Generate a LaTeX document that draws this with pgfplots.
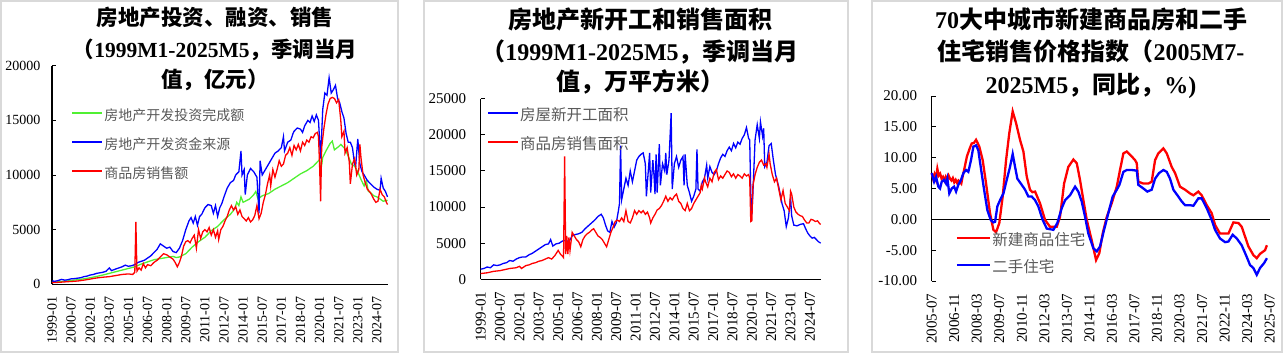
\documentclass[border=0pt]{standalone}
\usepackage{fontspec}
\setmainfont{Liberation Serif}
\newfontfamily\cjk{Noto Sans CJK SC}
\usepackage{pgfplots}
\pgfplotsset{compat=1.18}
\definecolor{cgreen}{RGB}{80,240,50}
\definecolor{cblue}{RGB}{0,0,255}
\definecolor{cred}{RGB}{255,0,0}
\definecolor{legtext}{RGB}{89,89,89}
\definecolor{framegray}{RGB}{217,217,217}
\pgfplotsset{
  base/.style={
    scale only axis, anchor=south west,
    axis x line*=bottom, axis y line*=left,
    axis line style={black, line width=1.1pt},
    xtick style={draw=none},
    ytick style={black, line width=1pt},
    tick align=inside, major tick length=4pt,
    scaled y ticks=false,
    /pgf/number format/assume math mode=true,
    /pgf/number format/set thousands separator={},
    xticklabel style={rotate=90, anchor=east},
    xticklabel shift=9pt,
    legend cell align=left,
    legend style={draw=none, fill=none, anchor=north west, inner sep=0pt, text=legtext,
      nodes={inner sep=1pt, text height=10pt, text depth=3pt}},
    legend image code/.code={\draw[##1,line width=2pt] (0pt,4pt) -- (30pt,4pt);},
    clip=false,
  }
}
\begin{document}
\begin{tikzpicture}
\useasboundingbox (0pt,0pt) rectangle (1284pt,354pt);
\draw[framegray, line width=1.2pt] (1pt,2pt) rectangle (398pt,353pt);
\draw[framegray, line width=1.2pt] (424pt,2pt) rectangle (848pt,353pt);
\draw[framegray, line width=1.2pt] (872pt,2pt) rectangle (1282pt,353pt);

% titles
\begin{scope}[every node/.style={anchor=base, inner sep=0pt}]
\node[font=\bfseries\fontsize{21.5}{21.5}\selectfont] at (215pt,328pt) {\cjk 房地产投资、融资、销售};
\node[font=\bfseries\fontsize{21.5}{21.5}\selectfont] at (215pt,296pt) {{\cjk （}1999M1-2025M5{\cjk ，季调当月}};
\node[font=\bfseries\fontsize{21.5}{21.5}\selectfont] at (215pt,266pt) {\cjk 值，亿元）};
\node[font=\bfseries\fontsize{24}{24}\selectfont] at (640pt,325pt) {\cjk 房地产新开工和销售面积};
\node[font=\bfseries\fontsize{24}{24}\selectfont] at (640pt,293pt) {{\cjk （}1999M1-2025M5{\cjk ，季调当月}};
\node[font=\bfseries\fontsize{24}{24}\selectfont] at (640pt,263pt) {\cjk 值，万平方米）};
\node[font=\bfseries\fontsize{24}{24}\selectfont] at (1091pt,325pt) {70{\cjk 大中城市新建商品房和二手}};
\node[font=\bfseries\fontsize{24}{24}\selectfont] at (1091pt,293pt) {{\cjk 住宅销售价格指数（}2005M7-};
\node[font=\bfseries\fontsize{24}{24}\selectfont] at (1091pt,260pt) {2025M5{\cjk ，同比，}\%)};
\end{scope}

% ---------- panel 1
\begin{axis}[base, at={(52pt,69.7pt)}, width=335.5pt, height=218.6pt,
  xmin=0, xmax=316, ymin=0, ymax=20000,
  ytick={0,5000,10000,15000,20000},
  xtick={0,18,...,306},
  xticklabels={1999-01,2000-07,2002-01,2003-07,2005-01,2006-07,2008-01,2009-07,2011-01,2012-07,2014-01,2015-07,2017-01,2018-07,2020-01,2021-07,2023-01,2024-07},
  ticklabel style={font=\fontsize{14}{14}\selectfont},
  yticklabel shift=8pt,
  legend style={at={(rel axis cs:0.057,0.799)}, font=\fontsize{14}{14}\selectfont\cjk, row sep=14pt},
]
\addplot[cgreen, line width=1.3pt] coordinates {(0,180)(6,230)(12,280)(18,350)(24,420)(30,500)(36,600)(42,720)(48,850)(54,1000)(60,1150)(66,1300)(72,1450)(78,1600)(84,1850)(90,2050)(96,2250)(102,2350)(108,2450)(114,2550)(117,2450)(120,2500)(126,2800)(132,3400)(138,3900)(144,4300)(150,4900)(156,5300)(162,5900)(168,6400)(172,6900)(174,7500)(176,7200)(178,8000)(180,7500)(186,7800)(190,8200)(192,8500)(194,7800)(198,8100)(204,8300)(210,8700)(216,9000)(222,9300)(228,9700)(234,10100)(240,10400)(246,10800)(250,11200)(252,11400)(253,10300)(255,11600)(258,12200)(262,12900)(264,13100)(266,12300)(270,12600)(272,12800)(276,12400)(280,11500)(282,11000)(285,10800)(288,10300)(291,9600)(294,9000)(296,9500)(298,8500)(300,8400)(303,8100)(306,8000)(309,7800)(312,7600)(316,7700)};
\addlegendentry{房地产开发投资完成额}
\addplot[cblue, line width=1.3pt] coordinates {(0,300)(3,280)(6,350)(9,450)(12,380)(15,420)(18,500)(21,520)(24,560)(27,600)(30,700)(33,750)(36,850)(39,900)(42,1000)(45,1050)(48,1100)(51,1200)(54,1500)(56,1250)(60,1400)(63,1500)(66,1600)(69,1750)(72,1650)(75,1700)(78,1800)(81,2000)(84,2100)(87,2200)(90,2400)(93,2600)(96,2900)(99,3200)(102,3700)(105,3500)(108,3300)(111,3400)(114,3000)(117,2900)(120,3300)(123,4000)(126,5000)(129,5800)(131,6100)(133,5600)(135,6200)(137,5400)(139,6200)(141,6400)(144,7000)(147,7300)(150,7200)(152,6500)(154,7200)(156,6200)(158,7000)(160,7400)(162,8000)(165,8800)(168,9300)(171,9500)(173,10000)(176,10300)(178,12200)(179,10000)(181,10500)(182,8200)(184,10000)(187,10600)(190,10300)(193,9800)(195,6500)(196,11300)(198,10000)(201,10500)(204,11000)(207,11500)(210,12000)(213,12200)(216,12500)(218,13500)(219,12200)(222,13000)(225,13200)(227,13800)(228,14000)(231,14300)(234,14200)(236,13900)(238,14500)(241,15000)(243,14800)(245,15400)(247,14900)(249,15500)(251,15000)(253,11500)(255,16000)(257,17500)(259,17300)(261,18900)(263,17500)(265,17800)(267,18200)(269,17000)(271,16600)(273,15800)(275,15200)(277,13800)(279,13000)(281,13000)(283,12500)(285,11000)(286,10800)(288,13300)(290,11000)(292,10300)(294,10000)(297,9500)(300,9200)(303,8900)(306,8700)(309,8600)(310,9700)(312,8800)(314,8500)(316,8000)};
\addlegendentry{房地产开发资金来源}
\addplot[cred, line width=1.3pt] coordinates {(0,150)(6,180)(12,220)(18,260)(24,300)(30,380)(36,480)(42,580)(48,650)(54,700)(60,800)(66,900)(72,950)(76,900)(78,1100)(79,5700)(80,1200)(82,1500)(84,1300)(86,1900)(88,1500)(90,1800)(93,1700)(96,2000)(99,2200)(102,2500)(105,2800)(108,2700)(111,2500)(114,2300)(116,2000)(118,1600)(120,2000)(122,2600)(124,3500)(126,3900)(128,4000)(130,3800)(132,4200)(134,4500)(136,3300)(138,5000)(140,4200)(142,4800)(144,5000)(146,4800)(148,5200)(150,4500)(152,5000)(154,4300)(156,4900)(157,4100)(159,5000)(161,5300)(163,5800)(165,6200)(167,6800)(169,7200)(171,6800)(173,7100)(175,6400)(177,6800)(179,6200)(181,6000)(183,5800)(185,6100)(187,5700)(189,5900)(191,6300)(193,7200)(195,6000)(197,6500)(199,7500)(201,8200)(203,9200)(205,10000)(206,9000)(208,10500)(210,9800)(212,10500)(214,11300)(216,10800)(218,11000)(220,11800)(222,12000)(224,12500)(226,11800)(228,12700)(230,12300)(232,12800)(234,12200)(236,13000)(238,12700)(240,13200)(242,13000)(244,13500)(246,13400)(248,13800)(250,13900)(251,13500)(252,11000)(253,7600)(254,12500)(256,14200)(258,15500)(260,16500)(262,17000)(264,17100)(266,17000)(268,16600)(270,16900)(272,15000)(273,13500)(275,14000)(276,12000)(278,12500)(280,11200)(281,9200)(283,11000)(285,11500)(287,10000)(289,10500)(290,12800)(291,11600)(293,10000)(295,9300)(297,8700)(299,8500)(301,8200)(303,7800)(305,7500)(307,7600)(309,8700)(311,8200)(313,8000)(315,7500)(316,7300)};
\addlegendentry{商品房销售额}
\end{axis}

% ---------- panel 2
\begin{axis}[base, at={(480.7pt,74.7pt)}, width=340pt, height=180.6pt,
  xmin=0, xmax=316, ymin=0, ymax=25000,
  ytick={0,5000,10000,15000,20000,25000},
  xtick={0,18,...,306},
  xticklabels={1999-01,2000-07,2002-01,2003-07,2005-01,2006-07,2008-01,2009-07,2011-01,2012-07,2014-01,2015-07,2017-01,2018-07,2020-01,2021-07,2023-01,2024-07},
  ticklabel style={font=\fontsize{15}{15}\selectfont},
  yticklabel shift=11pt,
  legend style={at={(rel axis cs:0.018,0.942)}, font=\fontsize{15.5}{15.5}\selectfont\cjk, row sep=14pt},
]
\addplot[cblue, line width=1.3pt] coordinates {(0,1400)(3,1500)(6,1700)(9,1600)(12,2000)(15,1900)(18,2000)(21,2200)(24,2300)(27,2600)(30,2500)(33,2800)(36,3000)(39,3100)(42,3100)(45,3400)(48,3600)(51,3900)(54,4200)(57,4500)(60,4800)(63,4900)(65,5500)(67,4600)(70,4900)(73,5000)(76,5300)(79,5400)(82,5200)(85,6000)(88,6200)(91,6300)(94,6500)(97,7000)(100,7400)(103,7800)(106,8200)(109,8700)(112,9000)(114,8500)(116,7500)(118,6700)(120,6500)(122,8000)(124,7200)(126,7800)(128,9500)(129,10500)(130,18500)(131,11000)(133,12500)(135,14000)(137,13000)(139,15000)(141,13500)(143,15000)(145,16500)(147,17000)(149,17300)(151,17500)(153,16000)(154,11500)(156,15500)(157,17500)(158,12000)(160,16500)(161,14500)(162,11800)(163,17300)(164,12000)(166,18700)(167,13000)(169,16000)(171,15000)(172,17500)(173,14500)(175,16500)(177,23000)(178,12500)(180,16000)(182,17000)(184,15500)(186,16500)(188,17000)(189,13000)(190,17300)(192,13000)(194,12000)(196,10800)(198,11500)(200,12500)(201,18000)(202,12500)(204,12200)(206,13500)(208,14000)(210,15800)(211,14000)(213,15600)(215,14800)(217,14500)(219,15000)(221,16000)(223,16800)(225,17300)(227,17000)(229,17800)(231,18300)(233,17800)(235,18800)(237,18200)(239,19000)(241,18700)(243,19500)(245,20000)(247,21000)(249,19500)(250,19300)(251,12000)(252,9000)(253,12000)(255,19300)(257,21400)(259,19500)(260,21800)(262,19800)(263,20900)(264,15600)(266,16200)(268,18500)(270,18800)(272,16500)(274,14500)(277,12800)(280,10500)(282,9500)(284,7300)(286,8500)(288,11400)(289,8800)(291,7500)(294,7400)(297,7600)(300,7700)(302,7000)(304,6400)(306,6000)(308,5700)(310,5800)(312,5500)(314,5200)(316,5000)};
\addlegendentry{房屋新开工面积}
\addplot[cred, line width=1.3pt] coordinates {(0,800)(3,850)(6,900)(9,1000)(12,1100)(15,1150)(18,1200)(21,1300)(24,1400)(27,1500)(30,1550)(33,1600)(36,1800)(38,1500)(40,1700)(42,1900)(45,2000)(48,2200)(51,2300)(54,2500)(57,2600)(60,2800)(63,3000)(66,2800)(69,3300)(72,4000)(74,3500)(76,3200)(77,3000)(78,17000)(79,3500)(80,6000)(81,3500)(82,5800)(83,4000)(85,6500)(87,6000)(89,5500)(91,5200)(93,4500)(95,5500)(97,6000)(99,6300)(101,6500)(103,6800)(105,7000)(107,6500)(109,6000)(111,5800)(113,5500)(115,5000)(117,4500)(119,5500)(121,6500)(123,7200)(125,8000)(127,8200)(129,8000)(131,8500)(133,8000)(135,9500)(137,8000)(139,7800)(141,8500)(143,9500)(145,9000)(147,9500)(149,9200)(151,9500)(153,9000)(155,9300)(157,8500)(158,7800)(160,8500)(162,9000)(164,9600)(166,9800)(168,10200)(170,10800)(172,11500)(174,10800)(176,11300)(178,11000)(180,11500)(182,11800)(184,10800)(186,10500)(188,9800)(190,9500)(192,10500)(194,9500)(196,9800)(198,10500)(200,11000)(202,11500)(204,12000)(205,13000)(206,12500)(208,14000)(209,13500)(211,12800)(213,14000)(215,13500)(217,14800)(219,15200)(221,13800)(223,14300)(225,14000)(227,14500)(229,15000)(231,14800)(233,14200)(235,14600)(237,14000)(239,14500)(241,14300)(243,14000)(245,14600)(247,14300)(249,14500)(250,14000)(251,8000)(252,8100)(253,13000)(255,14500)(257,15500)(259,16200)(261,16500)(263,15800)(265,16000)(266,15500)(268,17300)(269,16000)(271,14500)(273,13500)(275,14000)(277,12500)(279,11000)(281,12300)(283,10500)(285,10000)(287,9500)(288,12200)(289,11800)(291,10000)(293,9300)(295,9000)(297,8800)(299,8700)(301,8200)(303,7800)(305,7800)(307,8300)(309,8200)(311,8000)(313,8100)(315,7700)(316,7600)};
\addlegendentry{商品房销售面积}
\end{axis}

% ---------- panel 3
\begin{axis}[base, at={(931.7pt,73pt)}, width=338pt, height=185pt,
  xmin=0, xmax=240, ymin=-10, ymax=20,
  x axis line style={draw=none},
  ytick={-10,-5,0,5,10,15,20},
  yticklabel style={/pgf/number format/.cd, fixed, fixed zerofill, precision=2},
  xtick={0,16,...,240},
  xticklabels={2005-07,2006-11,2008-03,2009-07,2010-11,2012-03,2013-07,2014-11,2016-03,2017-07,2018-11,2020-03,2021-07,2022-11,2024-03,2025-07},
  ticklabel style={font=\fontsize{15}{15}\selectfont},
  yticklabel shift=11pt,
  legend style={at={(rel axis cs:0.07,0.252)}, font=\fontsize{15.5}{15.5}\selectfont\cjk, row sep=12pt},
  legend image code/.code={\draw[#1,line width=2.8pt] (0pt,4pt) -- (33pt,4pt);},
]
\addplot[black, line width=1.3pt, forget plot] coordinates {(0,0)(240,0)};
\addplot[cred, line width=2.3pt] coordinates {(0,7.5)(1,6.6)(2,7.3)(3,6.5)(4,8.2)(5,7.1)(6,7.4)(7,6.6)(8,6.9)(9,6.3)(10,6.9)(11,6.4)(12,7.1)(13,6.6)(14,6.3)(15,6.7)(16,6.0)(17,6.4)(18,5.9)(19,6.3)(20,6.1)(21,5.8)(22,7.0)(23,8.0)(25,10.2)(27,11.5)(28.4,12.3)(30,12.4)(31.5,12.9)(33.8,11.8)(36.2,9.6)(38.6,5.8)(41.4,1.0)(43.8,-1.7)(45.7,-2.1)(48,-0.6)(50.4,3.7)(52.8,9.6)(55.1,14.0)(57.5,17.5)(59.9,15.6)(62.7,12.9)(65.1,11.0)(67.5,6.9)(69.8,4.8)(71.5,4.4)(73.4,4.5)(76.9,2.6)(80.5,-0.1)(84,-1.2)(88.8,-1.2)(91.1,0.4)(94,5.8)(97,8.5)(100.6,9.7)(103,9.1)(105.3,6.4)(107.7,3.1)(110.1,-0.1)(113.6,-3.4)(116.7,-6.6)(119,-5.5)(121.4,-2.3)(124.3,0.4)(127.8,2.6)(131.4,5.3)(133.7,8.0)(136.1,10.7)(138.5,11.0)(142,10.2)(144.4,9.6)(145.6,9.1)(146.7,6.1)(150.3,5.8)(153.8,5.8)(156.2,6.1)(158.6,9.6)(160.9,10.7)(164.5,11.5)(166.9,10.7)(170.4,8.5)(172.8,7.5)(176.3,5.3)(179.9,4.8)(183.4,4.2)(185.8,3.9)(189.3,4.5)(191.7,3.9)(195.3,2.3)(198.8,1.0)(201.2,-0.9)(204.7,-2.3)(208.3,-2.3)(210.7,-2.3)(214.2,-0.5)(217.8,-0.6)(220.1,-1.2)(222.5,-2.8)(224.9,-4.4)(228.4,-5.8)(230.8,-6.3)(233.1,-5.6)(236.7,-5.0)(238,-4.2)};
\addlegendentry{新建商品住宅}
\addplot[cblue, line width=2.3pt] coordinates {(0,7.5)(1.7,6.1)(3.1,6.9)(4.7,5.3)(5.9,5.0)(7.1,6.1)(8.8,6.4)(10.2,5.8)(11.1,6.6)(12.5,4.2)(14.2,5.0)(15.9,5.3)(17.3,4.5)(18.9,5.6)(20.8,6.4)(22.5,7.5)(24.4,8.0)(26,7.7)(27.9,9.6)(29.6,11.8)(31.5,12.0)(33.1,11.2)(34.8,8.5)(37.2,4.8)(39.5,1.5)(41.9,-0.1)(43.8,-0.5)(45,-0.4)(46.6,2.1)(48.5,3.1)(50.9,4.2)(53.3,6.4)(55.6,8.5)(57.5,10.6)(59.2,8.5)(60.8,6.6)(63.9,5.6)(66.3,4.8)(68.6,3.7)(71,3.7)(73.4,3.1)(75.7,2.1)(78.8,-0.1)(81.7,-1.5)(86.4,-1.7)(89.2,-0.6)(92.3,1.8)(94.7,3.1)(98.2,3.9)(101.8,5.3)(104.1,4.5)(106.5,2.9)(108.9,0.4)(111.2,-2.3)(114.8,-4.7)(117.2,-5.2)(119.5,-4.4)(122.4,-1.7)(125.4,1.0)(128.5,3.7)(131.4,4.8)(133.3,5.6)(136.1,7.7)(138.5,8.0)(142,8.0)(145.6,7.9)(146.7,5.6)(150.3,5.0)(153.1,4.5)(156.2,4.8)(158.6,6.6)(161.4,7.5)(164.5,8.0)(166.9,7.7)(169.2,6.6)(171.6,4.8)(175.1,3.7)(177.5,2.9)(179.9,2.3)(183.4,2.3)(185.8,2.2)(189.3,3.4)(191.7,3.4)(195.3,1.8)(198.8,-0.1)(201.2,-1.7)(204.7,-3.1)(208.3,-3.7)(210.7,-3.6)(213.7,-2.5)(216.6,-3.1)(220.1,-4.2)(223.7,-6.1)(226,-7.4)(228.4,-7.9)(230.8,-9.0)(233.1,-7.9)(236,-7.1)(238,-6.3)};
\addlegendentry{二手住宅}
\end{axis}
\end{tikzpicture}
\end{document}
